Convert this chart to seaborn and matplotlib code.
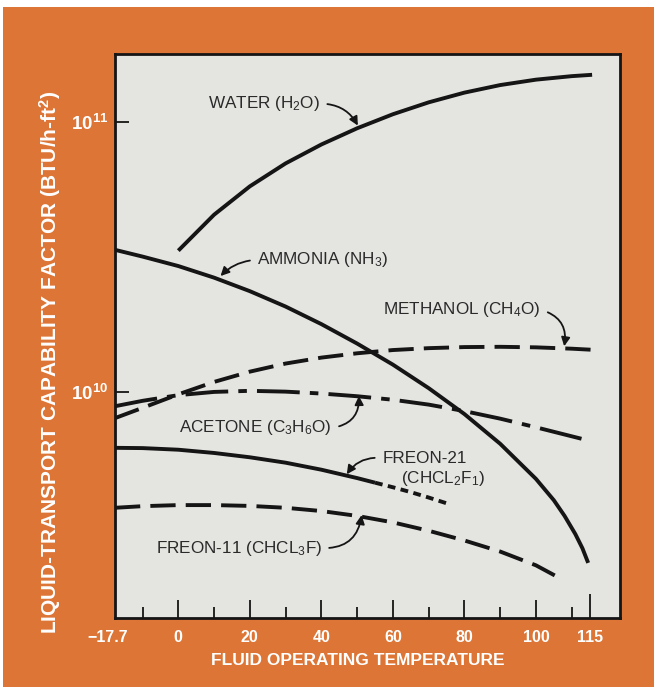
import numpy as np
import pandas as pd
import matplotlib
matplotlib.use("Agg")
import matplotlib.pyplot as plt
import matplotlib.transforms as mtransforms
from matplotlib.patches import Rectangle
import seaborn as sns

# Temperature (deg) and log10 of liquid-transport capability factor (BTU/h-ft^2)
water_t = [0, 10, 20, 30, 40, 50, 60, 70, 80, 90, 100, 110, 115.7]
water_log = [10.522, 10.655, 10.760, 10.845, 10.915, 10.975, 11.027, 11.071, 11.107,
             11.135, 11.155, 11.168, 11.173]

ammonia_t = [-17.7, -10, 0, 10, 20, 30, 40, 50, 60, 70, 80, 90, 100, 105, 108, 111, 113, 114.6]
ammonia_log = [10.525, 10.500, 10.465, 10.422, 10.372, 10.315, 10.250, 10.178, 10.100,
               10.013, 9.917, 9.807, 9.677, 9.598, 9.540, 9.473, 9.420, 9.366]

methanol_t = [-17.7, -10, 0, 10, 20, 30, 40, 50, 60, 70, 80, 90, 100, 110, 115.7]
methanol_log = [9.902, 9.940, 9.990, 10.036, 10.074, 10.104, 10.126, 10.142, 10.154,
                10.161, 10.165, 10.166, 10.164, 10.159, 10.155]

acetone_t = [-17.7, -10, 0, 10, 20, 30, 40, 50, 60, 70, 80, 90, 100, 113.8]
acetone_log = [9.946, 9.966, 9.987, 9.999, 10.003, 10.000, 9.993, 9.983, 9.970, 9.952,
               9.928, 9.900, 9.868, 9.822]

freon21_t = [-17.7, -10, 0, 10, 20, 30, 40, 50, 55]
freon21_log = [9.792, 9.791, 9.785, 9.773, 9.757, 9.737, 9.711, 9.680, 9.663]
freon21_ext_t = [55, 60, 65, 70, 75.4]
freon21_ext_log = [9.663, 9.646, 9.628, 9.608, 9.585]

freon11_t = [-17.7, -10, 0, 10, 20, 30, 40, 50, 60, 70, 80, 90, 100, 107.3]
freon11_log = [9.570, 9.576, 9.580, 9.580, 9.577, 9.570, 9.558, 9.540, 9.516, 9.485,
               9.449, 9.408, 9.357, 9.305]

x_major = [-17.7, 0, 20, 40, 60, 80, 100, 115]
x_major_labels = ["\u221217.7", "0", "20", "40", "60", "80", "100", "115"]
x_minor = [-10, 10, 30, 50, 70, 90, 110]

ORANGE = "#DC7535"
PANEL = "#E4E4E1"
INK = "#151515"
TEXT_INK = "#2a2a2a"

sns.set_theme(style="white")
plt.rcParams["font.family"] = ["Liberation Sans Narrow", "Liberation Sans", "DejaVu Sans"]
plt.rcParams["mathtext.fontset"] = "custom"
plt.rcParams["mathtext.rm"] = "Liberation Sans"
plt.rcParams["mathtext.it"] = "Liberation Sans"
plt.rcParams["mathtext.bf"] = "Liberation Sans:bold"

fig = plt.figure(figsize=(6.54, 6.87), dpi=100)
fig.patch.set_facecolor("white")
fig.patches.append(Rectangle((3 / 654, 0), 1, 680 / 687, transform=fig.transFigure,
                             facecolor=ORANGE, edgecolor="none", zorder=-10))

ax = fig.add_axes([115 / 654, 1 - 618 / 687, 505 / 654, 564 / 687])
ax.set_facecolor(PANEL)


def draw(t, logv, dashes=None, lw=2.8):
    df = pd.DataFrame({"t": t, "v": np.power(10.0, logv)})
    sns.lineplot(data=df, x="t", y="v", ax=ax, color=INK, lw=lw,
                 estimator=None, sort=False)
    line = ax.lines[-1]
    line.set_solid_capstyle("butt")
    line.set_dash_capstyle("butt")
    line.set_solid_joinstyle("round")
    if dashes is not None:
        line.set_dashes(dashes)
    return line


draw(water_t, water_log)
draw(ammonia_t, ammonia_log)
draw(methanol_t, methanol_log, dashes=(6.5, 2.6))
draw(acetone_t, acetone_log, dashes=(11, 2.6, 2.2, 2.6))
draw(freon21_t, freon21_log)
draw(freon21_ext_t, freon21_ext_log, dashes=(2.0, 1.4))
draw(freon11_t, freon11_log, dashes=(6.5, 2.6))

ax.set_yscale("log")
ax.set_xlim(-17.7, 123.5)
ax.set_ylim(10 ** 9.162, 10 ** 11.25)

# Axis ticks
ax.set_xticks(x_major)
ax.set_xticklabels(x_major_labels)
ax.set_xticks(x_minor, minor=True)
ax.yaxis.set_major_locator(matplotlib.ticker.FixedLocator([1e10, 1e11]))
ax.yaxis.set_minor_locator(matplotlib.ticker.NullLocator())
ax.set_yticklabels([r"$\mathbf{10^{10}}$", r"$\mathbf{10^{11}}$"])

ax.tick_params(axis="x", which="major", direction="in", length=13, width=1.3,
               color=INK, pad=9, labelsize=11.5, labelcolor="white", bottom=True, top=False)
ax.tick_params(axis="x", which="minor", direction="in", length=8, width=1.3,
               color=INK, bottom=True, top=False)
ax.tick_params(axis="y", which="major", direction="in", length=10, width=1.3,
               color=INK, pad=5, labelsize=13.5, labelcolor="white", left=True, right=False)
for lab in ax.get_xticklabels():
    lab.set_fontweight("bold")

# The left end label sits at the corner without a tick mark; the last tick is taller
xtl = ax.get_xticklines()
xtl[0].set_visible(False)
xtl[1].set_visible(False)
xtl[14].set_markersize(17)
first = ax.get_xticklabels()[0]
first.set_transform(first.get_transform() +
                    mtransforms.ScaledTranslation(-7 / 100, 0, fig.dpi_scale_trans))

for side in ["left", "right", "top", "bottom"]:
    ax.spines[side].set_visible(True)
    ax.spines[side].set_color(INK)
    ax.spines[side].set_linewidth(2)

ax.set_xlabel("FLUID OPERATING TEMPERATURE", color="white", fontsize=12.5,
              fontweight="bold")
ax.xaxis.set_label_coords(0.481, -0.062)
ax.set_ylabel("LIQUID-TRANSPORT CAPABILITY FACTOR (BTU/h-ft$^{\\mathbf{2}}$)",
              color="white", fontsize=15, fontweight="bold")
ax.yaxis.set_label_coords(-0.103, 0.454)

# Curve labels with arrows
arrow_kw = dict(arrowstyle="-|>", color=INK, lw=1.3, mutation_scale=13, shrinkA=3, shrinkB=0)
label_kw = dict(fontsize=12.3, color=TEXT_INK, va="center")


def label(text, tip, anchor, ha, rad):
    relpos = (1.0, 0.5) if ha == "right" else (0.0, 0.5)
    ax.annotate(text, xy=(tip[0], 10 ** tip[1]), xytext=(anchor[0], 10 ** anchor[1]),
                textcoords="data", ha=ha,
                arrowprops=dict(connectionstyle=f"arc3,rad={rad}", relpos=relpos, **arrow_kw),
                **label_kw)


label("WATER (H$_2$O)", (50.2, 10.985), (39.6, 11.066), "right", -0.3)
label("AMMONIA (NH$_3$)", (11.8, 10.428), (22.1, 10.488), "left", 0.2)
label("METHANOL (CH$_4$O)", (107.9, 10.168), (101.3, 10.303), "right", -0.45)
label("ACETONE (C$_3$H$_6$O)", (50.5, 9.984), (42.9, 9.866), "right", 0.45)
label("FREON-21", (47.1, 9.694), (57.0, 9.754), "left", 0.3)
ax.text(62.4, 10 ** 9.680, "(CHCL$_2$F$_1$)", ha="left", **label_kw)
label("FREON-11 (CHCL$_3$F)", (51.25, 9.543), (40.1, 9.421), "right", 0.45)

fig.savefig("out.png", dpi=100, facecolor=fig.get_facecolor())
